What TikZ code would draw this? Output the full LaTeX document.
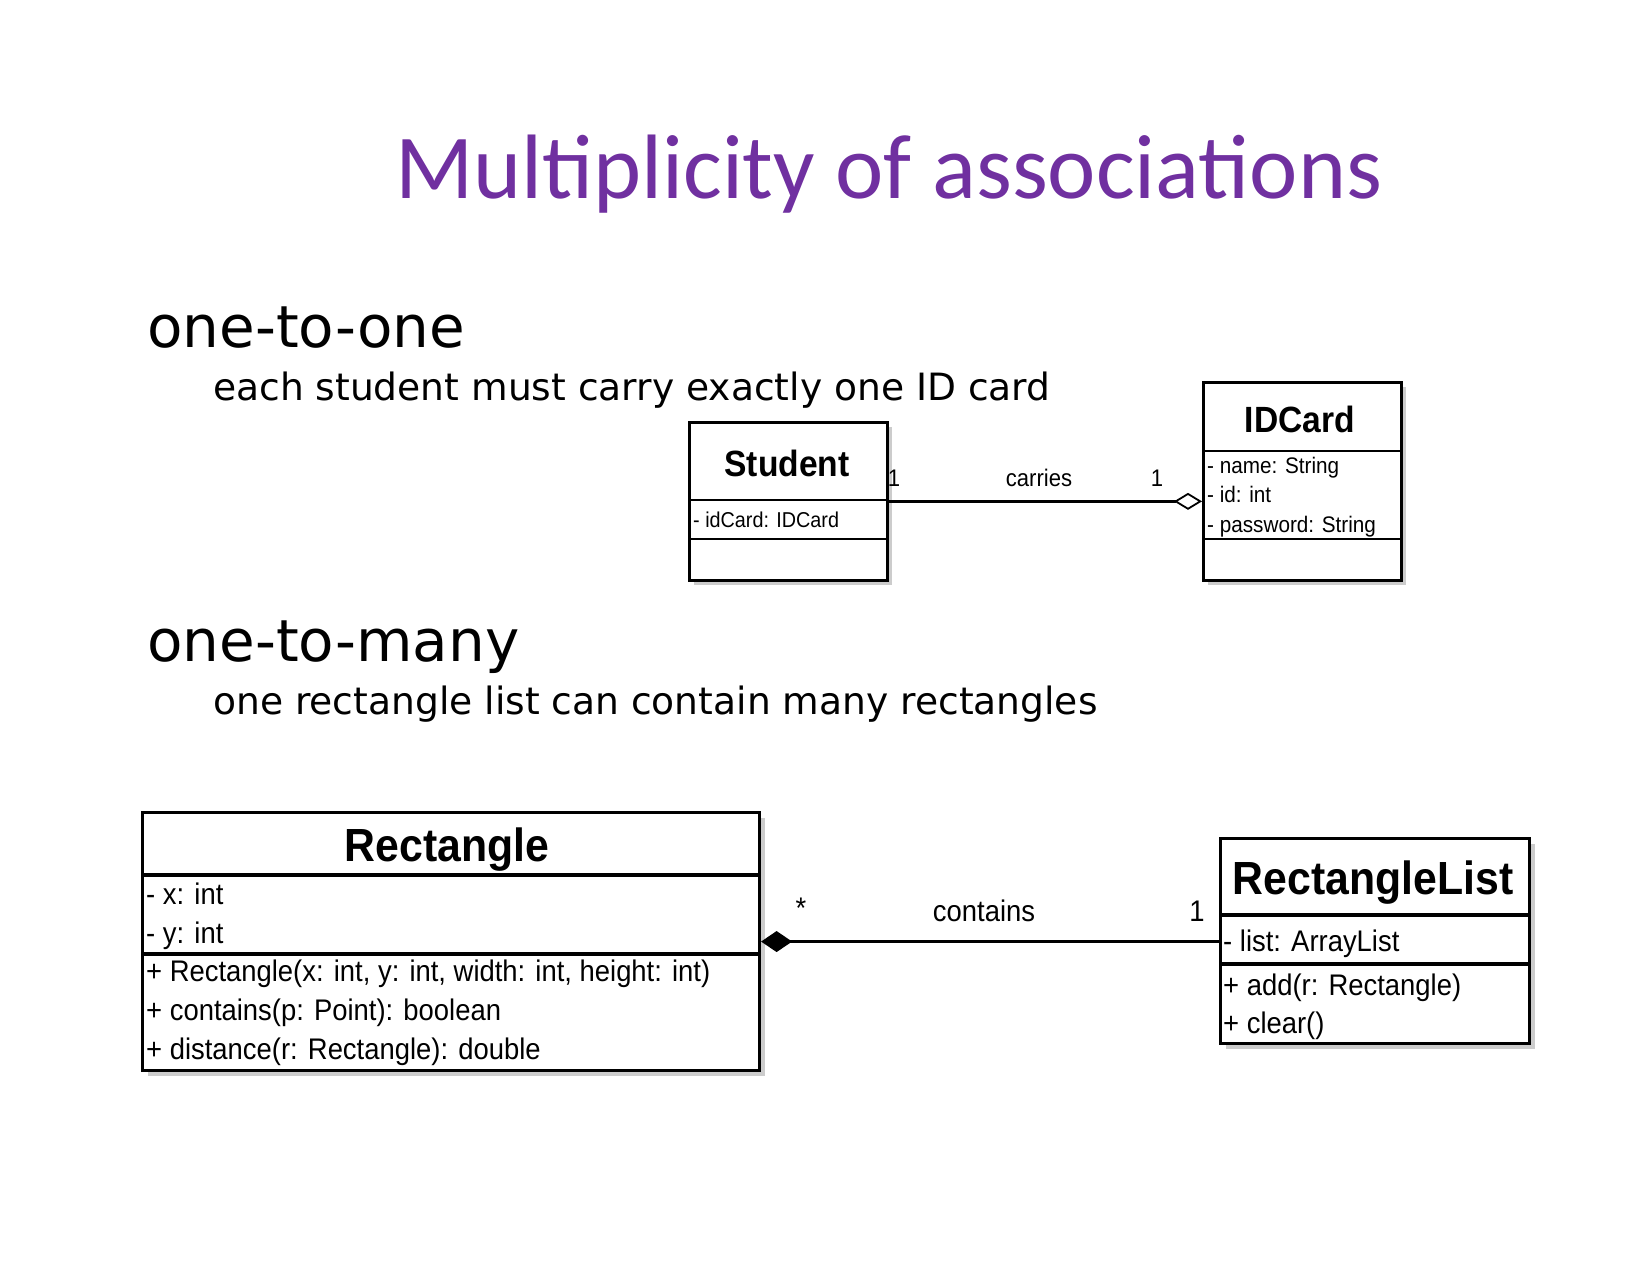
\documentclass[tikz,border=0pt]{standalone}
\usepackage{fontspec}
\setmainfont{DejaVu Sans}
\newfontfamily\titlefont{Carlito}
\newfontfamily\umlfont[FakeStretch=0.92]{Liberation Sans}
\usetikzlibrary{arrows.meta,shadows}
\definecolor{titlepurple}{RGB}{112,48,160}
\begin{document}
\begin{tikzpicture}[x=1pt,y=-1pt,
  txt/.style={inner sep=0pt, anchor=base west},
  ctxt/.style={inner sep=0pt, anchor=base},
  cls/.style={draw=black, line width=2.7pt, fill=white, anchor=north west, inner sep=0pt,
    drop shadow={shadow xshift=5pt, shadow yshift=-5pt, fill=gray!40, opacity=1}},
  divider/.style={line width=2.7pt},
  conn/.style={line width=2.3pt},
  sz/.style={font=\umlfont\fontsize{#1}{#1}\selectfont},
  bsz/.style={font=\umlfont\bfseries\fontsize{#1}{#1}\selectfont}
]
\useasboundingbox (0,0) rectangle (1651,1275);

% title and headings
\node[txt, text=titlepurple, font=\titlefont\fontsize{91.5}{100}\selectfont] (title) at (395,198) {Multiplicity of associations};
\node[txt, font=\fontsize{58}{64}\selectfont] (h1) at (147,347) {one-to-one};
\node[txt, font=\fontsize{37.6}{42}\selectfont] (s1) at (213,400) {each student must carry exactly one ID card};
\node[txt, font=\fontsize{58}{64}\selectfont] (h2) at (147,661) {one-to-many};
\node[txt, font=\fontsize{37.6}{42}\selectfont] (s2) at (213,714) {one rectangle list can contain many rectangles};

% Student
\node[cls, minimum width=198pt, minimum height=158pt] (student) at (688,421) {};
\draw[divider] (688,500) -- (886,500);
\draw[divider] (688,539) -- (886,539);
\node[ctxt, bsz=36.5] (studentname) at (787,476) {Student};
\node[txt, sz=21.5] (sattr) at (693,527) {- idCard: IDCard};

% IDCard
\node[cls, minimum width=198pt, minimum height=198pt] (idcard) at (1202,381) {};
\draw[divider] (1202,451) -- (1400,451);
\draw[divider] (1202,539) -- (1400,539);
\node[ctxt, bsz=36.5] (idname) at (1300,432) {IDCard};
\node[txt, sz=22.5] (ia1) at (1207,473) {- name: String};
\node[txt, sz=22.5] (ia2) at (1207,502) {- id: int};
\node[txt, sz=22.5] (ia3) at (1207,532) {- password: String};

% association carries
\draw[conn, -{Diamond[open, length=28pt, width=17pt, line width=1.8pt]}] (student.east) -- (student.east -| idcard.west);
\node[ctxt, sz=24] (carries) at (1039,486) {carries};
\node[ctxt, sz=24] (m1) at (894,486) {1};
\node[ctxt, sz=24] (m2) at (1157,486) {1};

% Rectangle
\node[cls, line width=3.1pt, minimum width=617pt, minimum height=258pt] (rect) at (141,811) {};
\draw[divider, line width=3.1pt] (141,875) -- (758,875);
\draw[divider, line width=3.1pt] (141,954) -- (758,954);
\node[ctxt, bsz=46.5] (rectname) at (447,861) {Rectangle};
\node[txt, sz=29.8] (ra1) at (146,904) {- x: int};
\node[txt, sz=29.8] (ra2) at (146,943) {- y: int};
\node[txt, sz=29.8] (rm1) at (146,981) {+ Rectangle(x: int, y: int, width: int, height: int)};
\node[txt, sz=29.8] (rm2) at (146,1020) {+ contains(p: Point): boolean};
\node[txt, sz=29.8] (rm3) at (146,1059) {+ distance(r: Rectangle): double};

% RectangleList
\node[cls, line width=3.1pt, minimum width=309pt, minimum height=205pt] (rlist) at (1219,837) {};
\draw[divider, line width=3.1pt] (1219,915) -- (1528,915);
\draw[divider, line width=3.1pt] (1219,964) -- (1528,964);
\node[ctxt, bsz=46.5] (rlistname) at (1373,894) {RectangleList};
\node[txt, sz=29.8] (la1) at (1223,951) {- list: ArrayList};
\node[txt, sz=29.8] (lm1) at (1223,995) {+ add(r: Rectangle)};
\node[txt, sz=29.8] (lm2) at (1223,1033) {+ clear()};

% association contains
\draw[conn, line width=2.7pt, {Diamond[length=31pt, width=21pt]}-] (rect.east) -- (rect.east -| rlist.west);
\node[ctxt, sz=29.8] (star) at (801,918) {*};
\node[ctxt, sz=29.8] (contains) at (984,921) {contains};
\node[ctxt, sz=29.8] (m3) at (1197,921) {1};
\end{tikzpicture}
\end{document}
